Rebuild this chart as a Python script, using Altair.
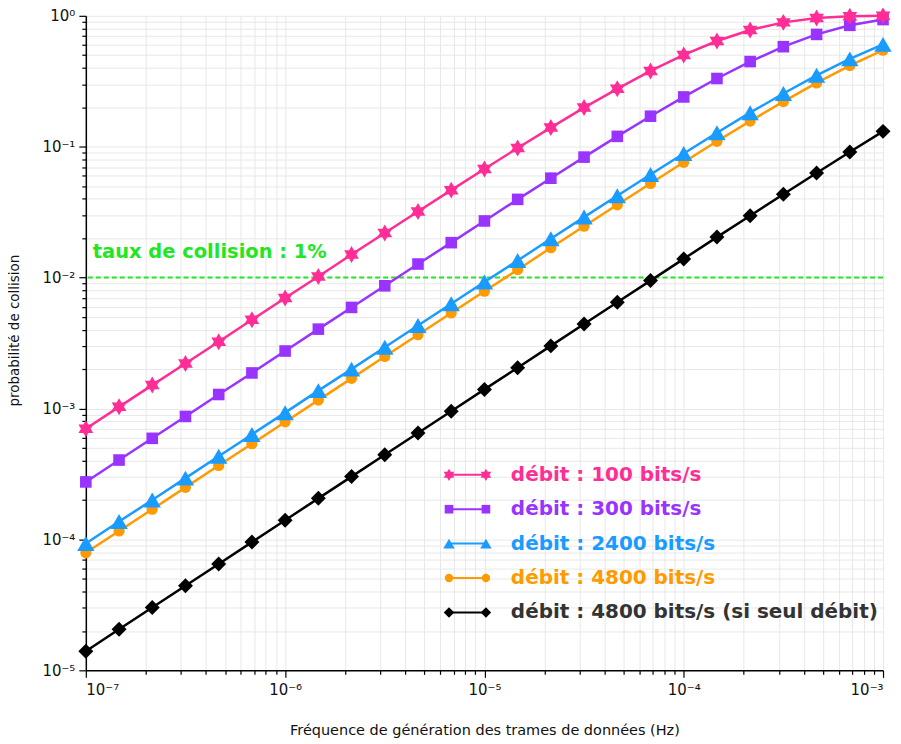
import altair as alt
import pandas as pd

# ---- data ----
freq = [1.0e-7, 1.468e-7, 2.154e-7, 3.162e-7, 4.642e-7, 6.813e-7,
        1.0e-6, 1.468e-6, 2.154e-6, 3.162e-6, 4.642e-6, 6.813e-6,
        1.0e-5, 1.468e-5, 2.154e-5, 3.162e-5, 4.642e-5, 6.813e-5,
        1.0e-4, 1.468e-4, 2.154e-4, 3.162e-4, 4.642e-4, 6.813e-4,
        1.0e-3]

p100 = [7.0e-4, 1.03e-3, 1.51e-3, 2.21e-3, 3.24e-3, 4.76e-3,
        6.98e-3, 1.02e-2, 1.50e-2, 2.19e-2, 3.20e-2, 4.66e-2,
        6.76e-2, 9.77e-2, 0.140, 0.199, 0.277, 0.379,
        0.503, 0.642, 0.779, 0.891, 0.961, 0.992, 0.999]

p300 = [2.75e-4, 4.04e-4, 5.92e-4, 8.70e-4, 1.28e-3, 1.87e-3,
        2.75e-3, 4.04e-3, 5.92e-3, 8.66e-3, 1.27e-2, 1.85e-2,
        2.71e-2, 3.96e-2, 5.75e-2, 8.33e-2, 0.120, 0.171,
        0.240, 0.332, 0.447, 0.581, 0.721, 0.846, 0.936]

p2400 = [9.3e-5, 1.37e-4, 2.00e-4, 2.94e-4, 4.32e-4, 6.34e-4,
         9.30e-4, 1.37e-3, 2.00e-3, 2.94e-3, 4.31e-3, 6.32e-3,
         9.26e-3, 1.35e-2, 1.98e-2, 2.90e-2, 4.22e-2, 6.14e-2,
         8.88e-2, 0.128, 0.182, 0.255, 0.351, 0.469, 0.605]

p4800 = [7.9e-5, 1.16e-4, 1.70e-4, 2.50e-4, 3.67e-4, 5.38e-4,
         7.90e-4, 1.16e-3, 1.70e-3, 2.50e-3, 3.66e-3, 5.37e-3,
         7.87e-3, 1.15e-2, 1.69e-2, 2.47e-2, 3.60e-2, 5.24e-2,
         7.60e-2, 0.110, 0.157, 0.221, 0.307, 0.416, 0.546]

p4800_seul = [1.40e-5, 2.06e-5, 3.02e-5, 4.43e-5, 6.50e-5, 9.54e-5,
              1.40e-4, 2.06e-4, 3.02e-4, 4.43e-4, 6.50e-4, 9.53e-4,
              1.40e-3, 2.05e-3, 3.01e-3, 4.42e-3, 6.48e-3, 9.49e-3,
              1.39e-2, 2.04e-2, 2.97e-2, 4.33e-2, 6.30e-2, 9.11e-2, 0.131]

series_names = ["débit : 4800 bits/s (si seul débit)", "débit : 4800 bits/s",
                "débit : 2400 bits/s", "débit : 300 bits/s", "débit : 100 bits/s"]
series_values = [p4800_seul, p4800, p2400, p300, p100]
series_colors = ["#000000", "#ff9a00", "#1a9bff", "#9933ff", "#ff2d95"]
text_colors = ["#333333", "#ff9a00", "#1a9bff", "#9933ff", "#ff2d95"]
STAR = "M0,-1L0.866,0.5L-0.866,0.5Z M0,1L-0.866,-0.5L0.866,-0.5Z"
series_shapes = ["diamond", "circle", "triangle-up", "square", STAR]
series_sizes = [225, 125, 300, 135, 290]
legend_sizes = [110, 70, 130, 75, 150]

threshold = [0.01]
threshold_label = ["taux de collision : 1%"]

x_ticks = [m * 10.0 ** d for d in range(-7, -3) for m in range(1, 10)] + [1e-3]
y_ticks = [m * 10.0 ** d for d in range(-5, 0) for m in range(1, 10)] + [1.0]

# ---- tables ----
rows = []
for name, vals, sz in zip(series_names, series_values, series_sizes):
    for f, p in zip(freq, vals):
        rows.append({"serie": name, "f": f, "p": p, "msize": sz})
df = pd.DataFrame(rows)

legend_order = list(reversed(series_names))
leg = pd.DataFrame({
    "serie": legend_order,
    "i": list(range(len(legend_order))),
    "tcolor": [text_colors[series_names.index(s)] for s in legend_order],
    "lsize": [legend_sizes[series_names.index(s)] for s in legend_order],
})

E = "round(log(datum.value)/LN10)"
LBL = ("abs(log(datum.value)/LN10 - " + E + ") < 1e-6 ? '10' + (" + E + " < 0 ? '⁻' : '') + "
       "['⁰','¹','²','³','⁴','⁵','⁶','⁷','⁸','⁹'][abs(" + E + ")] : ''")
MAJOR = "abs(log(datum.value)/LN10 - " + E + ") < 1e-6"
tick_size = {"condition": {"test": MAJOR, "value": 7}, "value": 4}

color_scale = alt.Scale(domain=series_names, range=series_colors)
shape_scale = alt.Scale(domain=series_names, range=series_shapes)

x_enc = alt.X("f:Q", scale=alt.Scale(type="log", domain=[1e-7, 1e-3], nice=False),
              axis=alt.Axis(values=x_ticks, labelExpr=LBL, labelOverlap=False,
                            title="Fréquence de génération des trames de données (Hz)",
                            titleFontSize=14.5, titleFontWeight="normal", titleY=64,
                            titleBaseline="alphabetic",
                            labelFontSize=15, labelPadding=5, tickSize=tick_size))
y_enc = alt.Y("p:Q", scale=alt.Scale(type="log", domain=[1e-5, 1], nice=False),
              axis=alt.Axis(values=y_ticks, labelExpr=LBL, labelOverlap=False,
                            title="probabilité de collision", titleFontSize=13.5,
                            titleFontWeight="normal", titleX=-71, titleY=315,
                            titleAlign="center", titleBaseline="middle", titleAngle=-90,
                            labelFontSize=15, labelPadding=4, tickSize=tick_size))

base = alt.Chart(df)
lines = base.mark_line(strokeWidth=2.5, clip=False).encode(
    x=x_enc, y=y_enc,
    color=alt.Color("serie:N", scale=color_scale, legend=None),
    order=alt.Order("f:Q"),
)
points = base.mark_point(filled=True, opacity=1, clip=False).encode(
    x="f:Q", y="p:Q",
    color=alt.Color("serie:N", scale=color_scale, legend=None),
    shape=alt.Shape("serie:N", scale=shape_scale, legend=None),
    size=alt.Size("msize:Q", scale=None, legend=None),
)

thr_df = pd.DataFrame({"p": threshold, "label": threshold_label})
thr_rule = alt.Chart(thr_df).mark_rule(color="#22e622", strokeWidth=2,
                                       strokeDash=[5, 3]).encode(y="p:Q")
thr_text = alt.Chart(thr_df).mark_text(color="#22e622", fontSize=19.5, fontWeight="bold",
                                        align="left", baseline="middle", dy=-26,
                                        font="DejaVu Sans").encode(
    x=alt.value(7), y="p:Q", text="label:N")

lbase = alt.Chart(leg).transform_calculate(ly="460 + 34.5 * datum.i")
ly = alt.Y("ly:Q", scale=None, axis=None)
leg_rule = lbase.mark_rule(strokeWidth=2).encode(
    x=alt.value(363), x2=alt.value(403), y=ly,
    color=alt.Color("serie:N", scale=color_scale, legend=None))
leg_pt1 = lbase.mark_point(filled=True, opacity=1).encode(
    x=alt.value(364), y=ly,
    color=alt.Color("serie:N", scale=color_scale, legend=None),
    shape=alt.Shape("serie:N", scale=shape_scale, legend=None),
    size=alt.Size("lsize:Q", scale=None, legend=None))
leg_pt2 = lbase.mark_point(filled=True, opacity=1).encode(
    x=alt.value(401), y=ly,
    color=alt.Color("serie:N", scale=color_scale, legend=None),
    shape=alt.Shape("serie:N", scale=shape_scale, legend=None),
    size=alt.Size("lsize:Q", scale=None, legend=None))
leg_text = lbase.mark_text(align="left", baseline="middle", fontSize=20,
                           fontWeight="bold", font="DejaVu Sans").encode(
    x=alt.value(426), y=ly, text="serie:N",
    color=alt.Color("tcolor:N", scale=None, legend=None))

chart = alt.layer(
    thr_rule, lines, points, thr_text, leg_rule, leg_pt1, leg_pt2, leg_text
).properties(
    width=799, height=656,
    autosize=alt.AutoSizeParams(type="none"),
    padding={"left": 78, "top": 7, "right": 10, "bottom": 73},
).configure_view(stroke=None).configure_axis(
    gridColor="#e8e8e8", gridWidth=1, domainColor="#000000", domainWidth=1.5,
    tickColor="#000000", tickWidth=1.2, labelColor="#111111", titleColor="#111111",
    labelFont="DejaVu Sans", titleFont="DejaVu Sans",
)

chart.save("out.html", embed_options={"renderer": "svg", "actions": False})
